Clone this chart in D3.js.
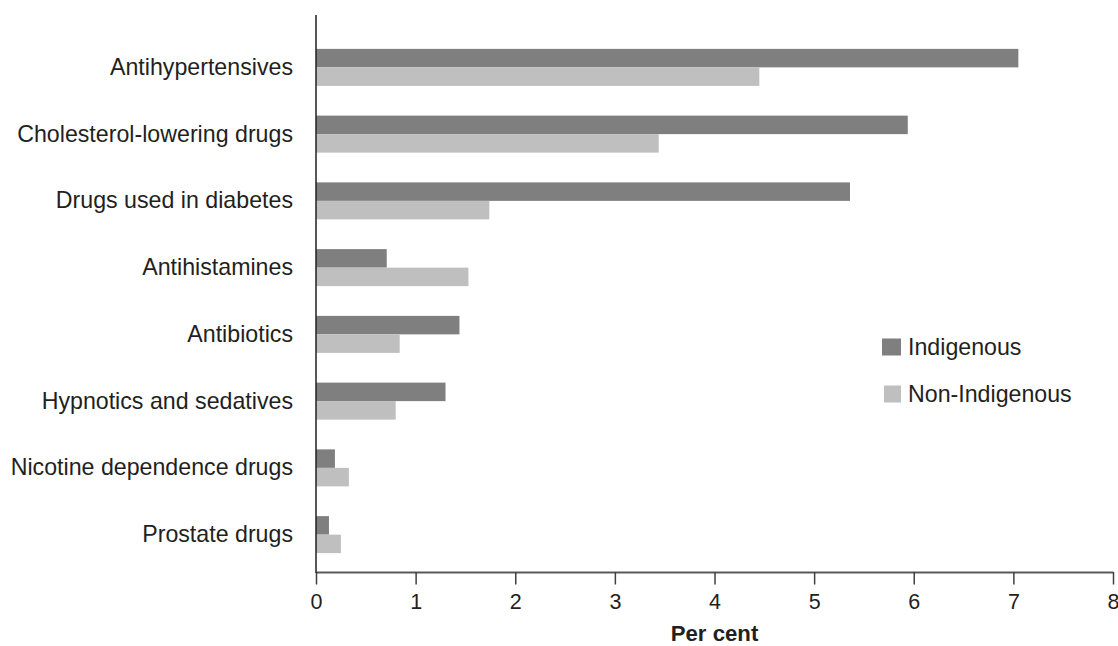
<!DOCTYPE html>
<html>
<head>
<meta charset="utf-8">
<script src="https://cdn.jsdelivr.net/npm/d3@7"></script>
<style>
  body { margin: 0; background: #fff; }
  svg text { font-family: "Liberation Sans", Arial, sans-serif; fill: #231f20; }
</style>
</head>
<body>
<svg id="chart" width="1118" height="646"></svg>
<script>
const categories = [
  "Antihypertensives",
  "Cholesterol-lowering drugs",
  "Drugs used in diabetes",
  "Antihistamines",
  "Antibiotics",
  "Hypnotics and sedatives",
  "Nicotine dependence drugs",
  "Prostate drugs"
];
const seriesNames = ["Indigenous", "Non-Indigenous"];
const indigenous    = [7.05, 5.94, 5.36, 0.71, 1.44, 1.30, 0.19, 0.13];
const nonIndigenous = [4.45, 3.44, 1.74, 1.53, 0.84, 0.80, 0.33, 0.25];
const xTicks = [0, 1, 2, 3, 4, 5, 6, 7, 8];
const xTitle = "Per cent";

const colors = ["#7f7f7f", "#bfbfbf"];
const seriesValues = [indigenous, nonIndigenous];

const svg = d3.select("#chart");
const fontSize = 23.2;
const tickFont = 21.5;

const x = d3.scaleLinear().domain([0, 8]).range([316, 1113]);
const y = d3.scaleBand().domain(categories).range([34, 568]).padding(0);
const barH = 18.5;
const inner = d3.scaleBand().domain(seriesNames).range([0, barH * 2]);

// bars
categories.forEach((c, i) => {
  const cy = y(c) + y.bandwidth() / 2 - barH;
  seriesNames.forEach((s, k) => {
    svg.append("rect")
      .attr("x", x(0))
      .attr("y", cy + inner(s))
      .attr("width", x(seriesValues[k][i]) - x(0))
      .attr("height", inner.bandwidth())
      .attr("fill", colors[k]);
  });
});

// x axis
const xAxis = svg.append("g")
  .attr("transform", "translate(0,572)")
  .call(d3.axisBottom(x).tickValues(xTicks).tickFormat(d3.format("d")).tickSize(12.5).tickSizeOuter(0).tickPadding(9.5));
xAxis.select(".domain").attr("stroke", "#595959").attr("stroke-width", 2);
xAxis.selectAll(".tick line").attr("stroke", "#404040").attr("stroke-width", 1.5);
xAxis.selectAll(".tick text").style("font-size", tickFont + "px").attr("fill", "#231f20");

// y axis
const yAxis = svg.append("g")
  .attr("transform", "translate(316,0)")
  .call(d3.axisLeft(y).tickSize(0).tickPadding(23));
yAxis.select(".domain").remove();
yAxis.selectAll(".tick text").style("font-size", fontSize + "px").attr("fill", "#231f20");
svg.append("line")
  .attr("x1", 316).attr("x2", 316)
  .attr("y1", 15).attr("y2", 573)
  .attr("stroke", "#231f20").attr("stroke-width", 1.5);

// x title
svg.append("text")
  .attr("x", (x(0) + x(8)) / 2)
  .attr("y", 641)
  .attr("text-anchor", "middle")
  .style("font-size", (fontSize - 1) + "px")
  .style("font-weight", "bold")
  .text(xTitle);

// legend
const legend = svg.append("g");
const legY = [347, 394];
seriesNames.forEach((s, k) => {
  legend.append("rect")
    .attr("x", k === 0 ? 882 : 884)
    .attr("y", legY[k] - 8.5)
    .attr("width", k === 0 ? 19 : 17)
    .attr("height", 17)
    .attr("fill", colors[k]);
  legend.append("text")
    .attr("x", 908)
    .attr("y", legY[k])
    .attr("dy", "0.35em")
    .style("font-size", fontSize + "px")
    .text(s);
});
</script>
</body>
</html>
